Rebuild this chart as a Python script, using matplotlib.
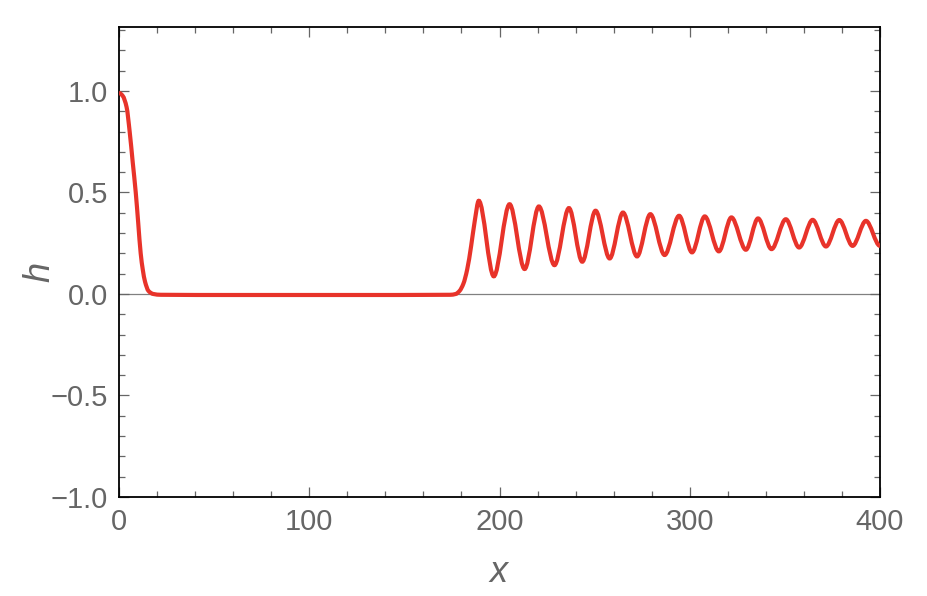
import numpy as np
import matplotlib
matplotlib.use("Agg")
import matplotlib.pyplot as plt
from matplotlib.path import Path
from matplotlib.patches import PathPatch
from matplotlib.ticker import FixedLocator, MultipleLocator, FuncFormatter

plt.rcParams['font.family'] = ['Liberation Sans', 'DejaVu Sans']

# values: front drop, flat part, rise, then the wave train
x_pts = [0, 2, 4, 5.6, 7.2, 8.8, 10.1, 11.4, 12.5, 13.7, 15.5, 18, 22,
         60, 120, 174,
         177, 179, 181, 183, 185.1, 187, 189.1,
         197.0, 205.3, 213.2, 220.7, 228.9, 236.5, 243.5, 250.5, 257.9, 264.9,
         272.3, 279.3, 286.8, 294.4, 301.2, 307.9, 315.3, 321.9, 329.5, 335.9,
         343.0, 350.5, 357.5, 364.6, 371.6, 378.6, 385.6, 392.6, 400]
h_pts = [0.99, 0.975, 0.92, 0.80, 0.65, 0.50, 0.35, 0.20, 0.12, 0.06, 0.015, 0.0, -0.004,
         -0.005, -0.005, -0.004,
         0.0, 0.015, 0.05, 0.12, 0.237, 0.36, 0.459,
         0.087, 0.442, 0.123, 0.431, 0.142, 0.423, 0.159, 0.410, 0.175, 0.401,
         0.185, 0.393, 0.192, 0.385, 0.205, 0.382, 0.210, 0.377, 0.218, 0.372,
         0.221, 0.368, 0.229, 0.365, 0.234, 0.364, 0.237, 0.360, 0.237]

y_ticks = [-1.0, -0.5, 0.0, 0.5, 1.0]
x_ticks = [0, 100, 200, 300, 400]

grey = '#666666'
red = '#e8332a'


# smooth path through the read points (monotone cubic -> bezier segments)
def smooth_path(xs, ys):
    xs = np.asarray(xs, float)
    ys = np.asarray(ys, float)
    dx = np.diff(xs)
    d = np.diff(ys) / dx
    m = np.zeros_like(xs)
    for i in range(1, len(xs) - 1):
        if d[i - 1] * d[i] > 0:
            w1 = 2 * dx[i] + dx[i - 1]
            w2 = dx[i] + 2 * dx[i - 1]
            m[i] = (w1 + w2) / (w1 / d[i - 1] + w2 / d[i])
    verts = [(xs[0], ys[0])]
    codes = [Path.MOVETO]
    for i in range(len(xs) - 1):
        h = dx[i] / 3
        verts += [(xs[i] + h, ys[i] + m[i] * h),
                  (xs[i + 1] - h, ys[i + 1] - m[i + 1] * h),
                  (xs[i + 1], ys[i + 1])]
        codes += [Path.CURVE4] * 3
    return Path(verts, codes)


fig = plt.figure(figsize=(9.28, 5.96), dpi=100)
ax = fig.add_axes([119 / 928, 99 / 596, 761 / 928, 470 / 596])

ax.axhline(0, color='#808080', lw=0.9, zorder=1)
ax.add_patch(PathPatch(smooth_path(x_pts, h_pts), facecolor='none',
                       edgecolor=red, lw=3.0, capstyle='butt', zorder=3))

ax.set_xlim(0, 400)
ax.set_ylim(-1.0, 1.315)

ax.xaxis.set_major_locator(FixedLocator(x_ticks))
ax.xaxis.set_minor_locator(MultipleLocator(20))
ax.yaxis.set_major_locator(FixedLocator(y_ticks))
ax.yaxis.set_minor_locator(MultipleLocator(0.1))
ax.yaxis.set_major_formatter(FuncFormatter(lambda v, p: f"{v:.1f}".replace('-', '\u2212')))

ax.tick_params(which='both', direction='in', top=True, right=True,
               color=grey, width=0.9, labelcolor=grey, labelsize=21)
ax.tick_params(which='major', length=7, pad=8)
ax.tick_params(which='minor', length=4)
for s in ax.spines.values():
    s.set_color('black')
    s.set_linewidth(1.3)

fig.text(499 / 928, 1 - 572 / 596, 'x', fontsize=26, style='italic', color=grey,
         ha='center', va='center')
fig.text(40 / 928, 1 - 272 / 596, 'h', fontsize=26, style='italic', color=grey,
         ha='center', va='center', rotation=90)

fig.savefig('out.png', dpi=100)
